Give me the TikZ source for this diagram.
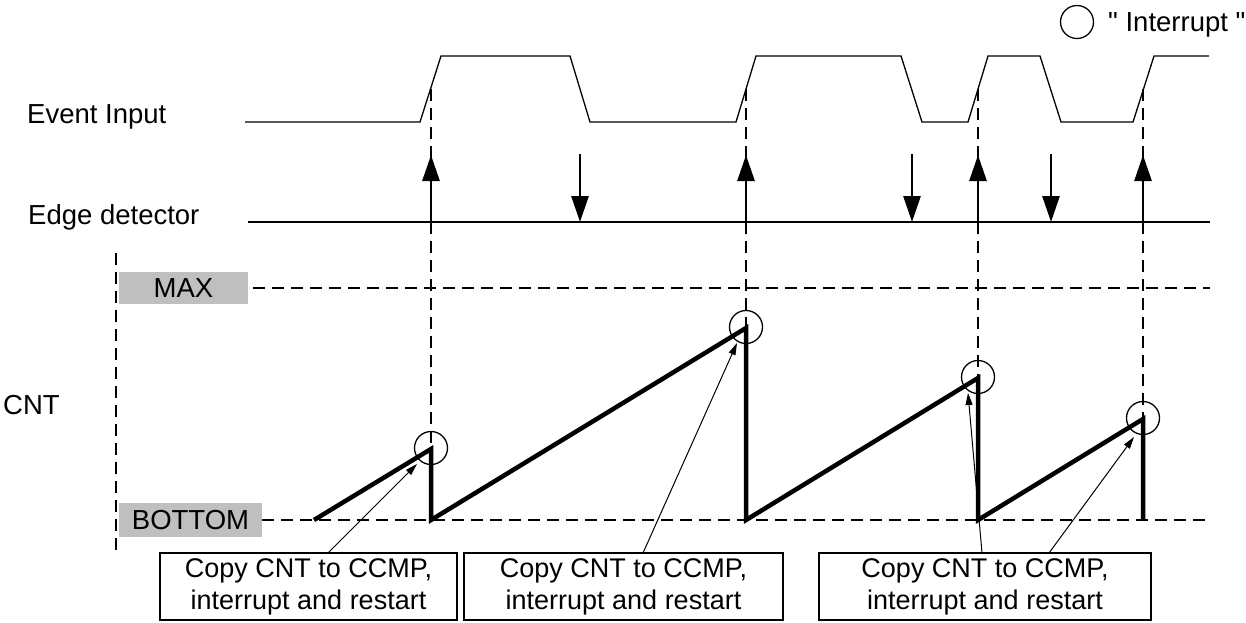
\documentclass[tikz,border=0pt]{standalone}
\usepackage{fontspec}
\setmainfont{Liberation Sans}
\newfontfamily\plainquotes{Liberation Sans}
\usetikzlibrary{arrows.meta, positioning}

\begin{document}
\begin{tikzpicture}[x=1pt, y=-1pt, font=\fontsize{27.5}{32}\selectfont]
        % Define styles
        \tikzset{
            signal/.style={line width=1.3pt, line join=miter},
            guide/.style={line width=1.3pt, dash pattern=on 12pt off 7pt},
            edgeptr/.style={-{Triangle[length=26pt,width=17pt]}, line width=2.8pt},
            counter/.style={line width=4.5pt, line join=miter},
            levelbox/.style={fill=black!25, inner sep=0pt},
            notebox/.style={draw, line width=1.4pt, align=center, inner sep=0pt, minimum height=67pt,
                font=\fontsize{27}{32}\selectfont},
            irqring/.style={draw, circle, line width=1.3pt, minimum size=33pt, inner sep=0pt},
            pointer/.style={-{Triangle[length=12pt,width=7pt]}, line width=1pt}
        }
        \useasboundingbox (0,0) rectangle (1246,622);
        % Signal names
        \node[anchor=base west, inner sep=0pt] (evin) at (27,123) {Event Input};
        \node[anchor=base west, inner sep=0pt] (edge) at (28,224) {Edge detector};
        \node[anchor=base west, inner sep=0pt] (cnt) at (3,414) {CNT};
        % Legend
        \node[irqring] (legring) at (1077,22) {};
        \node[anchor=base west, inner sep=0pt] (legtext) at (1108,31) {\plainquotes " Interrupt "};
        % Event input waveform
        \draw[signal] (245,122) -- (420,122) -- (441,56) -- (570,56) -- (590,122)
            -- (736,122) -- (756,56) -- (901,56) -- (922,122) -- (968,122)
            -- (988,56) -- (1040,56) -- (1061,122) -- (1133,122) -- (1154,56) -- (1209,56);
        % Edge detector line
        \draw[signal] (248,222) -- (1210,222);
        % Counter levels
        \node[levelbox, minimum width=129pt, minimum height=32pt] (max) at (183.5,288) {MAX};
        \node[levelbox, minimum width=143pt, minimum height=34pt] (bottom) at (190.5,520) {BOTTOM};
        \draw[guide] (max.east) ++(5,0) -- (1210,288);
        \draw[guide] (bottom.east) -- (1210,520);
        \draw[guide] (116,253) -- (116,553);
        % Capture points (rising edges)
        \foreach \x/\y [count=\i] in {431/449, 746/328, 978/378, 1143/419} {
            \coordinate (pk\i) at (\x,\y);
            \node[irqring] (c\i) at (\x,\y-1) {};
            \draw[guide] (\x,89) -- (pk\i);
            \draw[edgeptr] (\x,228) -- (\x,155);
        }
        % Falling edges
        \foreach \x in {580, 912, 1051}
            \draw[edgeptr] (\x,154) -- (\x,222);
        % Counter value
        \draw[counter] (314,520) -- (pk1) -- (431,520) -- (pk2) -- (746,520)
            -- (pk3) -- (978,520) -- (pk4) -- (1143,520);
        % Notes
        \node[notebox, minimum width=297pt] (b1) at (308.5,586.5) {Copy CNT to CCMP,\\interrupt and restart};
        \node[notebox, minimum width=319pt] (b2) at (623.5,586.5) {Copy CNT to CCMP,\\interrupt and restart};
        \node[notebox, minimum width=332pt] (b3) at (985,586.5) {Copy CNT to CCMP,\\interrupt and restart};
        % Pointers from the notes
        \coordinate (s1) at (328,553);  \coordinate (t1) at (417,464);
        \coordinate (s2) at (643,553);  \coordinate (t2) at (737,343);
        \coordinate (s3) at (982,553);  \coordinate (t3) at (968,393);
        \coordinate (s4) at (1049,553); \coordinate (t4) at (1134,437);
        \draw[pointer] (s1) -- (t1);
        \draw[pointer] (s2) -- (t2);
        \draw[pointer] (s3) -- (t3);
        \draw[pointer] (s4) -- (t4);
    \end{tikzpicture}
\end{document}
